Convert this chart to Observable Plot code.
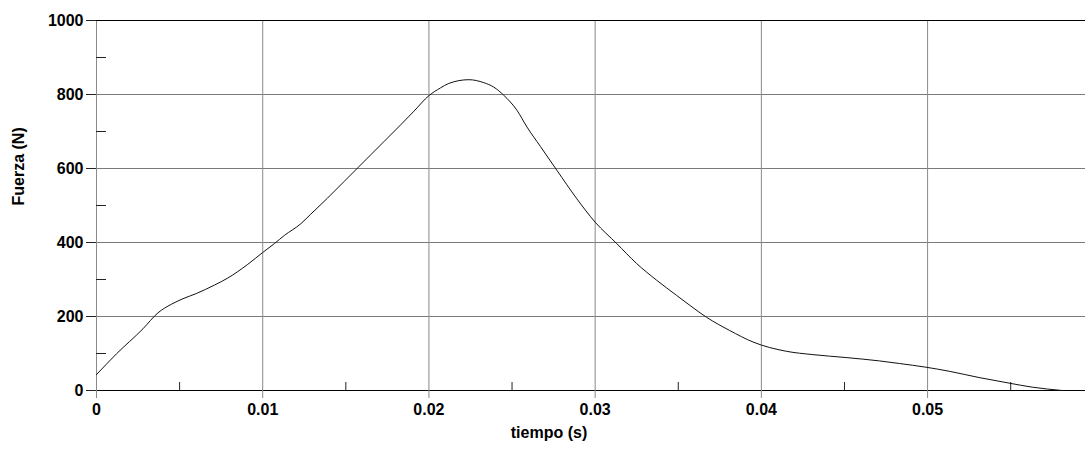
<!DOCTYPE html>
<html>
<head>
<meta charset="utf-8">
<script src="https://cdn.jsdelivr.net/npm/d3@7"></script>
<script src="https://cdn.jsdelivr.net/npm/@observablehq/plot@0.6"></script>
<style>
  html, body { margin: 0; padding: 0; background: #fff; }
  #chart svg { display: block; }
</style>
</head>
<body>
<div id="chart"></div>
<script>
// time (s)
const tiempo = [0, 0.0012, 0.0028, 0.0037, 0.0045, 0.0052, 0.0060, 0.0071, 0.0079, 0.0091, 0.0100,
  0.0107, 0.0113, 0.0123, 0.0129, 0.0139, 0.0149, 0.0157, 0.0165, 0.0173, 0.0183,
  0.0191, 0.0200, 0.0207, 0.0212, 0.0224, 0.0233, 0.0239, 0.0245, 0.0253, 0.0259,
  0.0267, 0.0277, 0.0289, 0.0300, 0.0313, 0.0325, 0.0337, 0.0349, 0.0357, 0.0367,
  0.0381, 0.0395, 0.0415, 0.0431, 0.0451, 0.0471, 0.0483, 0.0499, 0.0513, 0.0531,
  0.0549, 0.0563, 0.0581];
// force (N)
const fuerza = [43, 99, 167, 210, 233, 248, 262, 285, 304, 341, 373,
  397, 419, 451, 477, 520, 565, 601, 637, 673, 718,
  755, 797, 818, 830, 840, 832, 820, 798, 757, 712,
  660, 595, 518, 455, 397, 343, 298, 257, 230, 198,
  162, 131, 106, 97, 89, 80, 73, 63, 52, 35,
  20, 9, 0];

const xTicks = [0, 0.01, 0.02, 0.03, 0.04, 0.05];
const xTickLabels = ["0", "0.01", "0.02", "0.03", "0.04", "0.05"];
const xMinorTicks = [0.005, 0.015, 0.025, 0.035, 0.045, 0.055];
const yTicks = [0, 200, 400, 600, 800, 1000];
const yTickLabels = ["0", "200", "400", "600", "800", "1000"];
const yMinorTicks = [100, 300, 500, 700, 900];
const yGrid = [200, 400, 600, 800];
const xGrid = [0.01, 0.02, 0.03, 0.04, 0.05];
const xTitle = "tiempo (s)";
const yTitle = "Fuerza (N)";

const data = tiempo.map((t, i) => ({t, f: fuerza[i]}));
const font = "'Liberation Sans', Arial, sans-serif";

const chart = Plot.plot({
  width: 1086,
  height: 450,
  marginLeft: 96,
  marginRight: 1,
  marginTop: 20,
  marginBottom: 60,
  style: {fontFamily: font, background: "#fff", overflow: "visible"},
  x: {domain: [0, 0.0595]},
  y: {domain: [0, 1000]},
  marks: [
    Plot.ruleY(yGrid, {stroke: "#7a7a7a", strokeWidth: 1}),
    Plot.ruleX(xGrid, {stroke: "#8a8a8a", strokeWidth: 1}),
    Plot.ruleX([0], {stroke: "#8a8a8a", strokeWidth: 1}),
    Plot.ruleY([1000], {stroke: "#000", strokeWidth: 1.2}),
    Plot.ruleY([0], {stroke: "#000", strokeWidth: 1.2}),
    Plot.axisX({ticks: xTicks, tickSize: 8, tickPadding: 5, stroke: "#8a8a8a",
      tickFormat: (d) => xTickLabels[xTicks.indexOf(d)], fontSize: 16, fontWeight: "bold",
      fill: "#000", label: null}),
    Plot.axisX({ticks: xMinorTicks, tickSize: -8, tickFormat: () => "", stroke: "#222", label: null}),
    Plot.axisY({ticks: yTicks, tickSize: 10, tickPadding: 3, stroke: "#222",
      tickFormat: (d) => yTickLabels[yTicks.indexOf(d)],
      fontSize: 16, fontWeight: "bold", fill: "#000", label: null}),
    Plot.axisY({ticks: yMinorTicks, tickSize: -10, tickFormat: () => "", stroke: "#222", label: null}),
    Plot.line(data, {x: "t", y: "f", stroke: "#111", strokeWidth: 1, curve: "monotone-x"}),
    Plot.text([yTitle], {frameAnchor: "left", rotate: -90, dx: -78, fontSize: 16,
      fontWeight: "bold", fill: "#000"}),
    Plot.text([xTitle], {frameAnchor: "bottom", dx: -42, dy: 47, fontSize: 16,
      fontWeight: "bold", fill: "#000"})
  ]
});
document.getElementById("chart").append(chart);
</script>
</body>
</html>
